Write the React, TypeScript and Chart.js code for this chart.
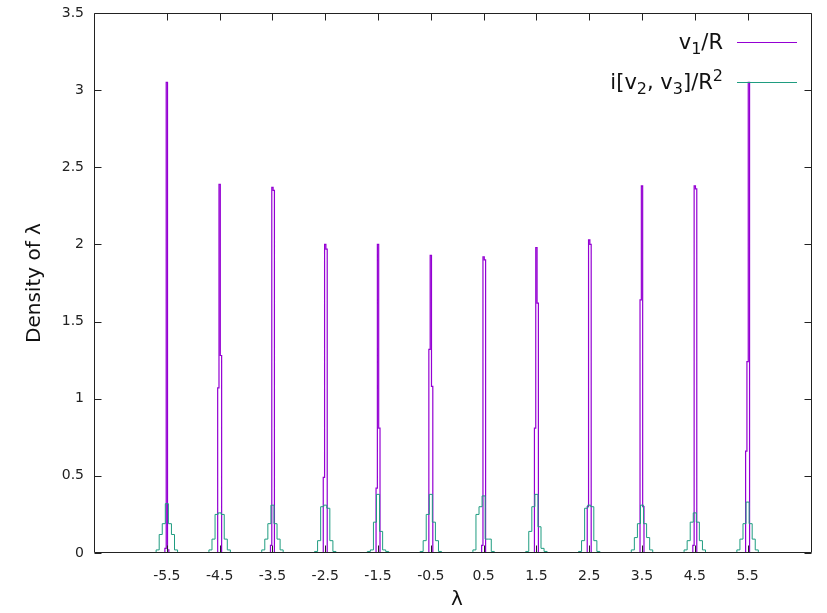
import React, { useEffect, useRef } from "react";
import { Chart, registerables } from "chart.js";

Chart.register(...registerables);

// ---- data ----
const peakCenters = [-5.5, -4.5, -3.5, -2.5, -1.5, -0.5, 0.5, 1.5, 2.5, 3.5, 4.5, 5.5];
const xTickValues = [-5.5, -4.5, -3.5, -2.5, -1.5, -0.5, 0.5, 1.5, 2.5, 3.5, 4.5, 5.5];
const yTickValues = [0, 0.5, 1, 1.5, 2, 2.5, 3, 3.5];

// v1/R : narrow-bin histogram, 3 bins per peak
const v1BinWidth = 0.025;
const v1Heights = [
  [0.03, 3.05, 0.02],
  [1.07, 2.39, 1.28],
  [0.05, 2.37, 2.35],
  [0.49, 2.0, 1.97],
  [0.42, 2.0, 0.81],
  [1.32, 1.93, 1.08],
  [0.05, 1.92, 1.9],
  [0.81, 1.98, 1.62],
  [0.3, 2.03, 2.0],
  [1.64, 2.38, 0.3],
  [0.05, 2.38, 2.36],
  [0.66, 1.24, 3.05],
];

// i[v2, v3]/R^2 : wider-bin histogram, 7 bins per peak
const v23BinWidth = 0.058;
const v23Heights = [
  [0.02, 0.12, 0.19, 0.32, 0.19, 0.12, 0.02],
  [0.02, 0.09, 0.25, 0.26, 0.25, 0.09, 0.02],
  [0.02, 0.09, 0.19, 0.31, 0.19, 0.09, 0.02],
  [0.01, 0.08, 0.3, 0.31, 0.29, 0.08, 0.01],
  [0.01, 0.02, 0.2, 0.38, 0.14, 0.02, 0.01],
  [0.01, 0.08, 0.25, 0.38, 0.2, 0.08, 0.01],
  [0.02, 0.25, 0.3, 0.37, 0.09, 0.09, 0.01],
  [0.01, 0.14, 0.3, 0.38, 0.17, 0.03, 0.01],
  [0.01, 0.08, 0.29, 0.31, 0.3, 0.08, 0.01],
  [0.02, 0.1, 0.19, 0.31, 0.19, 0.1, 0.02],
  [0.02, 0.08, 0.2, 0.26, 0.2, 0.08, 0.02],
  [0.02, 0.09, 0.19, 0.33, 0.19, 0.09, 0.02],
];

const seriesLabels = ["v1/R", "i[v2, v3]/R2"];

function stepPoints(centers: number[], heights: number[][], width: number) {
  const pts: { x: number; y: number }[] = [];
  centers.forEach((c, i) => {
    const h = heights[i];
    const start = c - (h.length * width) / 2;
    pts.push({ x: start, y: 0 });
    h.forEach((v, k) => pts.push({ x: start + k * width, y: v }));
    pts.push({ x: start + h.length * width, y: 0 });
  });
  return pts;
}

const PURPLE = "#9400d3";
const GREEN = "#1f9c80";
const FONT = '"DejaVu Sans", sans-serif';

type Run = [string, "n" | "sub" | "sup"];
const legendRuns: Run[][] = [
  [["v", "n"], ["1", "sub"], ["/R", "n"]],
  [["i[v", "n"], ["2", "sub"], [", v", "n"], ["3", "sub"], ["]/R", "n"], ["2", "sup"]],
];

const framePlugin = {
  id: "frame",
  afterDraw(chart: any) {
    const { ctx, chartArea: a, scales } = chart;
    ctx.save();
    ctx.strokeStyle = "#222";
    ctx.lineWidth = 1;
    const L = Math.round(a.left) + 0.5;
    const R = Math.round(a.right) - 0.5;
    const T = Math.round(a.top) + 0.5;
    const B = Math.round(a.bottom) - 0.5;
    ctx.beginPath();
    ctx.rect(L, T, R - L, B - T);
    yTickValues.forEach((v) => {
      const py = Math.round(scales.y.getPixelForValue(v)) + 0.5;
      ctx.moveTo(L, py);
      ctx.lineTo(L + 7, py);
      ctx.moveTo(R, py);
      ctx.lineTo(R - 7, py);
    });
    xTickValues.forEach((v) => {
      const px = Math.round(scales.x.getPixelForValue(v)) + 0.5;
      ctx.moveTo(px, B);
      ctx.lineTo(px, B - 7);
      ctx.moveTo(px, T);
      ctx.lineTo(px, T + 7);
    });
    ctx.stroke();

    // axis titles
    ctx.fillStyle = "#111";
    ctx.font = `20px ${FONT}`;
    ctx.textAlign = "center";
    ctx.textBaseline = "middle";
    ctx.fillText("λ", 457, 600);
    ctx.save();
    ctx.translate(35, 283);
    ctx.rotate(-Math.PI / 2);
    ctx.fillText("Density of λ", 0, 0);
    ctx.restore();

    // legend
    const colors = [PURPLE, GREEN];
    const rowsY = [42, 82];
    const textRight = 723;
    const size = 21;
    legendRuns.forEach((runs, i) => {
      const y = rowsY[i];
      const widths = runs.map(([t, m]) => {
        ctx.font = `${m === "n" ? size : Math.round(size * 0.75)}px ${FONT}`;
        return ctx.measureText(t).width;
      });
      const total = widths.reduce((s, w) => s + w, 0);
      let x = textRight - total;
      ctx.textAlign = "left";
      ctx.textBaseline = "alphabetic";
      runs.forEach(([t, m], k) => {
        ctx.font = `${m === "n" ? size : Math.round(size * 0.75)}px ${FONT}`;
        const dy = m === "sub" ? 5 : m === "sup" ? -8 : 0;
        ctx.fillText(t, x, y + 7 + dy);
        x += widths[k];
      });
      ctx.strokeStyle = colors[i];
      ctx.lineWidth = 1.2;
      ctx.beginPath();
      ctx.moveTo(737, y + 0.5);
      ctx.lineTo(797, y + 0.5);
      ctx.stroke();
    });
    ctx.restore();
  },
};

export default function App() {
  const ref = useRef<HTMLCanvasElement | null>(null);
  useEffect(() => {
    if (!ref.current) return;
    const chart = new Chart(ref.current, {
      type: "line",
      data: {
        datasets: [
          {
            label: seriesLabels[0],
            data: stepPoints(peakCenters, v1Heights, v1BinWidth),
            borderColor: PURPLE,
            borderWidth: 1.2,
            pointRadius: 0,
            stepped: true,
            fill: false,
            order: 1,
          },
          {
            label: seriesLabels[1],
            data: stepPoints(peakCenters, v23Heights, v23BinWidth),
            borderColor: GREEN,
            borderWidth: 1,
            pointRadius: 0,
            stepped: true,
            fill: false,
            order: 0,
          },
        ],
      },
      options: {
        animation: false,
        responsive: false,
        devicePixelRatio: 1,
        layout: { padding: { left: 0, top: 13, right: 15, bottom: 0 } },
        plugins: { legend: { display: false }, tooltip: { enabled: false } },
        scales: {
          x: {
            type: "linear",
            min: -6.88,
            max: 6.72,
            grid: { display: false, drawTicks: false, tickLength: 0 },
            border: { display: false },
            afterBuildTicks: (scale: any) => {
              scale.ticks = xTickValues.map((v) => ({ value: v }));
            },
            afterFit: (scale: any) => {
              scale.height = 60;
              scale.paddingLeft = 0;
              scale.paddingRight = 0;
            },
            ticks: {
              autoSkip: false,
              maxRotation: 0,
              padding: 15,
              color: "#222",
              font: { family: FONT, size: 14 },
              callback: (v: any) => Number(v).toFixed(1),
            },
          },
          y: {
            type: "linear",
            min: 0,
            max: 3.5,
            grid: { display: false, drawTicks: false, tickLength: 0 },
            border: { display: false },
            afterBuildTicks: (scale: any) => {
              scale.ticks = yTickValues.map((v) => ({ value: v }));
            },
            afterFit: (scale: any) => {
              scale.width = 94;
              scale.paddingTop = 0;
              scale.paddingBottom = 0;
            },
            ticks: {
              padding: 10,
              color: "#222",
              font: { family: FONT, size: 14 },
              callback: (v: any) => String(v),
            },
          },
        },
      },
      plugins: [framePlugin],
    });
    return () => chart.destroy();
  }, []);
  return (
    <div style={{ position: "fixed", left: 0, top: 0, width: 827, height: 613, background: "#fff" }}>
      <canvas ref={ref} width={827} height={613} />
    </div>
  );
}
